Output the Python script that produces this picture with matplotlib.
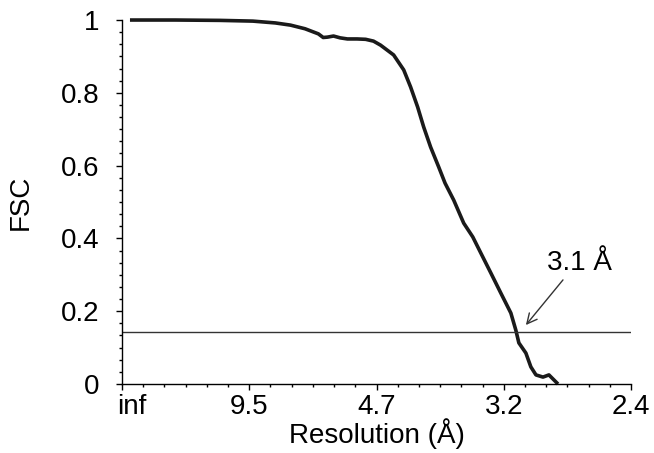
import matplotlib.pyplot as plt
from matplotlib.ticker import AutoMinorLocator
from matplotlib.transforms import ScaledTranslation

plt.rcParams['font.family'] = ['Liberation Sans', 'DejaVu Sans']

# spatial frequency (1/A) and FSC
freq = [0.0066, 0.044, 0.081, 0.108, 0.1265, 0.139, 0.151, 0.162, 0.166, 0.1695,
        0.1745, 0.180, 0.186, 0.194, 0.201, 0.2075, 0.2133, 0.2241, 0.2324, 0.2381,
        0.2439, 0.2489, 0.2546, 0.2613, 0.2665, 0.2737, 0.2819, 0.2894, 0.2960, 0.3043,
        0.3125, 0.3208, 0.3249, 0.3274, 0.3332, 0.3373, 0.3415, 0.3473, 0.3522, 0.3597]
fsc = [1.0, 1.0, 0.999, 0.997, 0.992, 0.986, 0.976, 0.962, 0.952, 0.953,
       0.956, 0.951, 0.948, 0.948, 0.947, 0.942, 0.931, 0.904, 0.863, 0.816,
       0.761, 0.706, 0.651, 0.596, 0.552, 0.505, 0.442, 0.404, 0.360, 0.305,
       0.250, 0.195, 0.148, 0.113, 0.085, 0.047, 0.025, 0.019, 0.025, 0.0]

xticks = [0, 0.105, 0.21, 0.315, 0.42]
xlabels = ['inf', '9.5', '4.7', '3.2', '2.4']
yticks = [0, 0.2, 0.4, 0.6, 0.8, 1]
ylabels = ['0', '0.2', '0.4', '0.6', '0.8', '1']
cutoff = 0.143
res_label = '3.1 Å'

fig = plt.figure(figsize=(6.54, 4.53), dpi=100)
ax = fig.add_axes([0.1865, 0.1523, 0.7785, 0.8035])

ax.plot(freq, fsc, color='#1a1a1a', linewidth=2.6, clip_on=False,
        solid_capstyle='butt', solid_joinstyle='round')
ax.axhline(cutoff, color='#333333', linewidth=1.0)

ax.set_xlim(0, 0.42)
ax.set_ylim(0, 1)
ax.spines['top'].set_visible(False)
ax.spines['right'].set_visible(False)
for s in ['left', 'bottom']:
    ax.spines[s].set_linewidth(1.0)

ax.set_xticks(xticks)
ax.set_xticklabels(xlabels)
ax.set_yticks(yticks)
ax.set_yticklabels(ylabels)
ax.xaxis.set_minor_locator(AutoMinorLocator(6))
ax.yaxis.set_minor_locator(AutoMinorLocator(6))
ax.tick_params(which='major', length=4, width=1, labelsize=20)
ax.tick_params(which='minor', length=2.5, width=1)
ax.tick_params(axis='x', pad=3)
ax.tick_params(axis='y', pad=12)

# "inf" sits to the right of its tick in the original
lbl = ax.get_xticklabels()[0]
lbl.set_transform(lbl.get_transform() + ScaledTranslation(10 / 100, 0, fig.dpi_scale_trans))

ax.set_xlabel('Resolution (Å)', fontsize=20, labelpad=-1)
ax.set_ylabel('FSC', fontsize=20, labelpad=20)

ax.text(0.377, 0.332, res_label, fontsize=20, ha='center', va='center')
ax.annotate('', xy=(0.3332, 0.162), xytext=(0.3638, 0.286),
            arrowprops=dict(arrowstyle='->', color='#333333', lw=1.0,
                            mutation_scale=18, shrinkA=0, shrinkB=0))

fig.savefig('out.png', dpi=100)
